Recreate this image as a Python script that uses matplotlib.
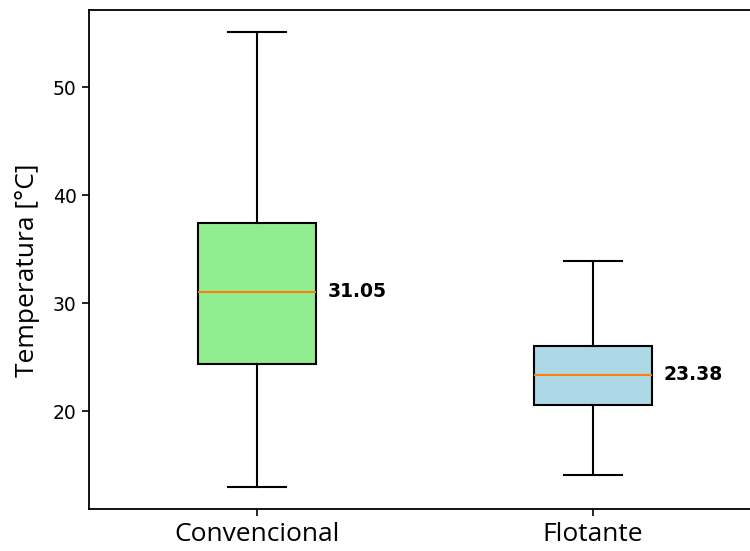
import matplotlib
matplotlib.use("Agg")
import matplotlib.pyplot as plt

# Box statistics per installation type (°C)
categories = ["Convencional", "Flotante"]
whisker_low = [12.99, 14.05]
q1 = [24.38, 20.58]
medians = [31.05, 23.38]
q3 = [37.38, 25.99]
whisker_high = [55.12, 33.89]
box_colors = ["lightgreen", "lightblue"]

stats = [
    dict(label=c, whislo=lo, q1=a, med=m, q3=b, whishi=hi, fliers=[])
    for c, lo, a, m, b, hi in zip(categories, whisker_low, q1, medians, q3, whisker_high)
]

fig = plt.figure(figsize=(7.5, 5.51), dpi=100)
W, H = 750, 551
left, right, top, bottom = 89, 761, 9.5, 509
ax = fig.add_axes([left / W, 1 - bottom / H, (right - left) / W, (bottom - top) / H])

positions = [1, 2]
lw = 1.5
bp = ax.bxp(
    stats,
    positions=positions,
    widths=0.35,
    patch_artist=True,
    showfliers=False,
    boxprops=dict(linewidth=lw, edgecolor="black"),
    whiskerprops=dict(linewidth=lw, color="black"),
    capprops=dict(linewidth=lw, color="black"),
    medianprops=dict(linewidth=1.5, color="#ff7f0e"),
)
for patch, col in zip(bp["boxes"], box_colors):
    patch.set_facecolor(col)

for pos, med in zip(positions, medians):
    ax.text(pos + 0.21, med, f"{med:.2f}", ha="left", va="center",
            fontsize=13.5, fontweight="bold", color="black")

ax.set_xlim(0.5, 2.5)
ax.set_ylim(10.93, 57.18)
ax.set_yticks([20, 30, 40, 50])
ax.set_xticks(positions)
ax.set_xticklabels(categories, fontsize=19, family="Open Sans")
ax.tick_params(axis="y", labelsize=13.5, length=5, width=1.2, pad=4)
ax.tick_params(axis="x", length=5, width=1.2, pad=4.5)
ax.set_ylabel("Temperatura [°C]", fontsize=19, family="Open Sans")
ax.yaxis.set_label_coords(-0.0725, 0.4785)
for sp in ax.spines.values():
    sp.set_linewidth(1.3)

fig.savefig("out.png", dpi=100)
